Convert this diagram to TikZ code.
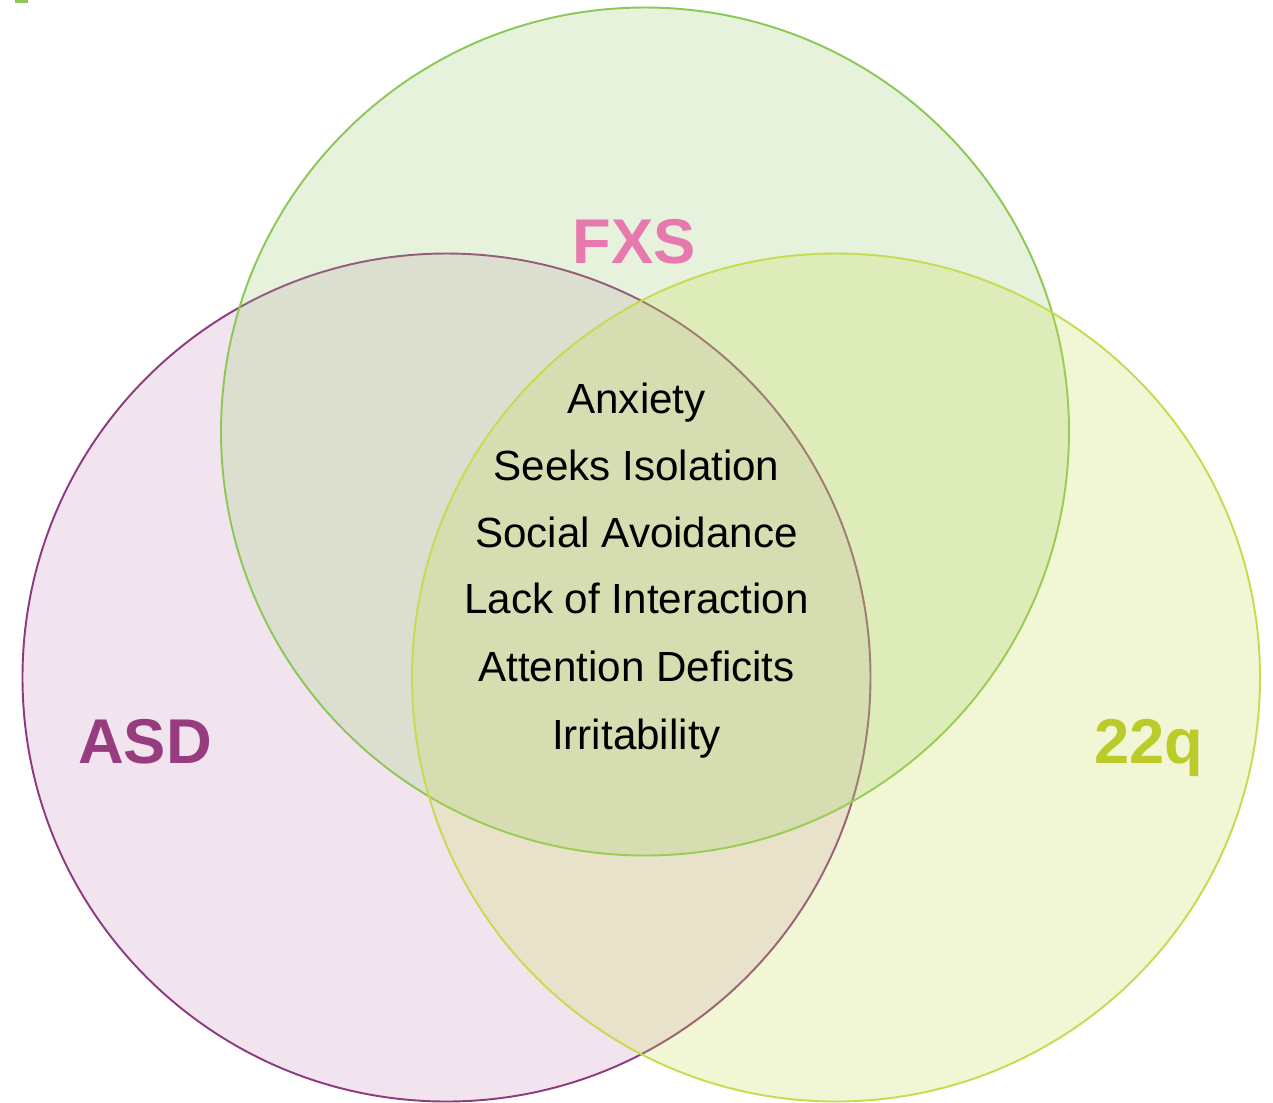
\documentclass[tikz,border=0pt]{standalone}
\usepackage{fontspec}
\setmainfont{Liberation Sans}
\usetikzlibrary{positioning}

\definecolor{asdline}{RGB}{142,58,128}
\definecolor{asdfill}{RGB}{203,147,191}
\definecolor{asdtext}{RGB}{150,60,127}
\definecolor{fxsline}{RGB}{140,200,85}
\definecolor{fxsfill}{RGB}{155,203,115}
\definecolor{fxstext}{RGB}{232,121,174}
\definecolor{qline}{RGB}{200,218,80}
\definecolor{qfill}{RGB}{199,219,87}
\definecolor{qtext}{RGB}{187,203,42}

\tikzset{set/.style={ % Sets the look of each circle of the diagram
            circle,
            minimum size=16.96cm,
            inner sep=0pt,
            line width=1.1pt,
            fill opacity=0.25}, % Lets the overlaps show through
        setname/.style={ % Name of each set
            anchor=base,
            inner sep=0pt,
            font=\fontsize{36}{40}\selectfont\bfseries},
        trait/.style={ % Entries in the common part
            anchor=base,
            inner sep=0pt,
            font=\fontsize{24}{28}\selectfont}
        }

\begin{document}
\begin{tikzpicture}
    \useasboundingbox (0,0) rectangle (25.46,-22.04);
    \fill[fxsline] (0.30,0) rectangle (0.56,-0.06);

    \node[set, draw=asdline, fill=asdfill] (asd) at (8.93,-13.55) {};
    \node[set, draw=fxsline, fill=fxsfill] (fxs) at (12.90,-8.63) {};
    \node[set, draw=qline, fill=qfill] (q22) at (16.72,-13.55) {};

    \node[setname, text=fxstext] (fxsname) at (12.68,-5.26) {FXS};
    \node[setname, text=asdtext] (asdname) at (2.90,-15.26) {ASD};
    \node[setname, text=qtext] (qname) at (22.98,-15.26) {22q};

    \node[trait] (anx) at (12.73,-8.27) {Anxiety};
    \node[trait] (iso) at (12.73,-9.61) {Seeks Isolation};
    \node[trait] (avo) at (12.73,-10.94) {Social Avoidance};
    \node[trait] (lack) at (12.73,-12.27) {Lack of Interaction};
    \node[trait] (att) at (12.73,-13.63) {Attention Deficits};
    \node[trait] (irr) at (12.73,-14.99) {Irritability};
\end{tikzpicture}
\end{document}
